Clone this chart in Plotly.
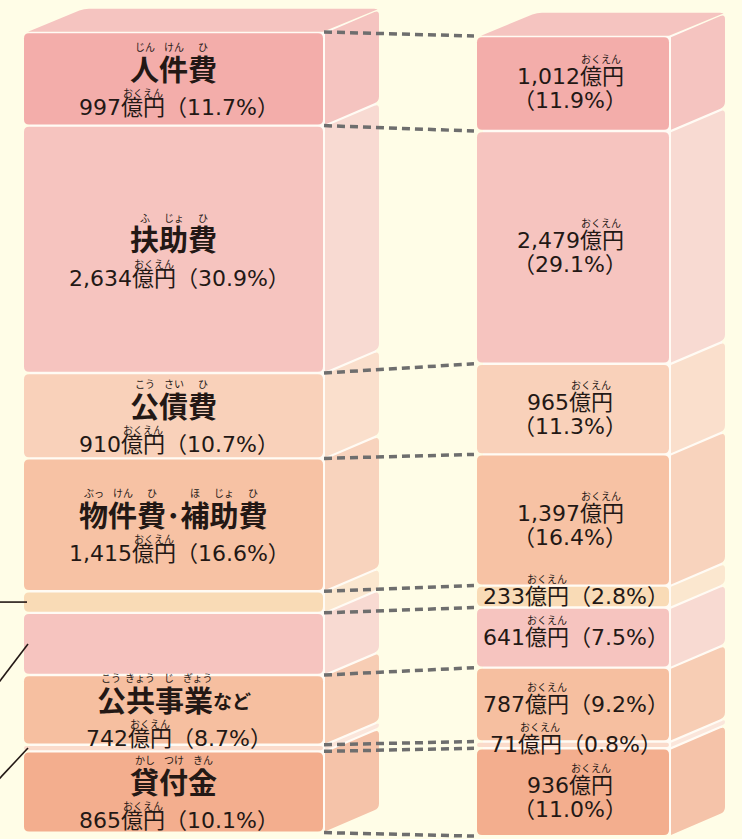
import math
import plotly.graph_objects as go

# ---------------- data ----------------
left_titles  = ["人件費", "扶助費", "公債費", "物件費･補助費", "", "", "公共事業", "", "貸付金"]
left_suffix  = ["", "", "", "", "", "", "など", "", ""]
left_ruby    = [["じん", "けん", "ひ"], ["ふ", "じょ", "ひ"], ["こう", "さい", "ひ"],
                ["ぶっ", "けん", "ひ", "", "ほ", "じょ", "ひ"], [], [],
                ["こう", "きょう", "じ", "ぎょう"], [], ["かし", "つけ", "きん"]]
left_values  = [997, 2634, 910, 1415, 230, 662, 742, 71, 865]
left_pcts    = [11.7, 30.9, 10.7, 16.6, None, None, 8.7, None, 10.1]
right_values = [1012, 2479, 965, 1397, 233, 641, 787, 71, 936]
right_pcts   = [11.9, 29.1, 11.3, 16.4, 2.8, 7.5, 9.2, 0.8, 11.0]
unit_label = "億円"
unit_ruby = "おくえん"

# ---------------- style ----------------
front_colors = ["#F3ADAA", "#F6C4BF", "#F9D1BA", "#F7C2A4", "#F9DBB6",
                "#F6C4BF", "#F6BFA0", "#FADBCB", "#F3AE8E"]
side_colors  = ["#F5C4C0", "#F8DAD2", "#FADFCC", "#F8D3BD", "#FBE7CF",
                "#F8DAD2", "#F7CDB4", "#FBE6DB", "#F5C3A9"]
right_two_line = [True, True, True, True, False, False, False, False, True]
BG = "#FFFDE7"
GAPC = "#FFFBF4"
TXT = "#231815"
DASHC = "#6E6E6E"

W, H = 742, 839
K = 0.0939            # px per 億円
TOP_PX = 32
ROFF = 4 / K          # right column offset (data units)
LX0, LX1 = 24, 323
RX0, RX1 = 477, 669
DX, DY = 56, -23
R = 5
G = 1.2 / K           # half gap
TFS, SFS, VFS, RFS = 29, 19, 22, 10
CJK = "Noto Sans CJK JP"
NUMF = "DejaVu Sans, Noto Sans CJK JP"


def P(x, y):
    return f"{x:.2f},{y:.3f}"


def rrect(x0, x1, y0, y1, r=R):
    ry = min(r / K, (y1 - y0) / 2)
    rx = min(r, (x1 - x0) / 2, ry * K)
    return (f"M {P(x0+rx,y0)} L {P(x1-rx,y0)} Q {P(x1,y0)} {P(x1,y0+ry)} "
            f"L {P(x1,y1-ry)} Q {P(x1,y1)} {P(x1-rx,y1)} L {P(x0+rx,y1)} "
            f"Q {P(x0,y1)} {P(x0,y1-ry)} L {P(x0,y0+ry)} Q {P(x0,y0)} {P(x0+rx,y0)} Z")


def side(xf, xb, y0, y1, r=R):
    dyd = DY / K
    ry = min(r / K, (y1 - y0) / 2)
    f = (ry * K) / math.hypot(DX, DY)
    A = (xf, y0); D = (xf, y1)
    B = (xb, y0 + dyd); C = (xb, y1 + dyd)
    B1 = (xb - f * DX, y0 + dyd - f * dyd); B2 = (xb, y0 + dyd + ry)
    C1 = (xb, y1 + dyd - ry); C2 = (xb - f * DX, y1 + dyd - f * dyd)
    return (f"M {P(*A)} L {P(*B1)} Q {P(*B)} {P(*B2)} L {P(*C1)} "
            f"Q {P(*C)} {P(*C2)} L {P(*D)} Z")


def top_face(x0, x1, y0, r=R):
    dyd = DY / K
    f = r / math.hypot(DX, DY)
    FL = (x0 + 4, y0); FR = (x1, y0)
    BL = (x0 + 4 + DX, y0 + dyd); BR = (x1 + DX, y0 + dyd)
    BL1 = (BL[0] - f * DX, BL[1] - f * dyd); BL2 = (BL[0] + r, BL[1])
    BR1 = (BR[0] - r, BR[1]); BR2 = (BR[0] - f * DX * 0.5, BR[1] - f * dyd * 0.5)
    return (f"M {P(*FL)} L {P(*BL1)} Q {P(*BL)} {P(*BL2)} L {P(*BR1)} "
            f"Q {P(*BR)} {P(*BR2)} L {P(*FR)} Z")


def cum(vals, off=0.0):
    out = [off]
    for v in vals:
        out.append(out[-1] + v)
    return out


def num_w(s):
    w = 0.0
    for ch in s:
        if ch.isdigit():
            w += 0.636
        elif ch in ",.":
            w += 0.318
        elif ch == "%":
            w += 0.950
        else:
            w += 1.0
    return w


shapes = []
annots = []


def column(vals, x0, x1, off):
    c = cum(vals, off)
    ytop, ybot = c[0], c[-1]
    dyd = DY / K
    # white backing (gaps)
    shapes.append(dict(type="path", xref="x", yref="y", line=dict(width=0), fillcolor=GAPC,
                       path=f"M {P(x0+6,ytop)} L {P(x1+2,ytop)} L {P(x1+2,ybot-3/K)} L {P(x0+6,ybot-3/K)} Z"))
    shapes.append(dict(type="path", xref="x", yref="y", line=dict(width=0), fillcolor=GAPC,
                       path=(f"M {P(x1,ytop)} L {P(x1+DX-3,ytop+dyd+3/K)} "
                             f"L {P(x1+DX-3,ybot+dyd-3/K)} L {P(x1,ybot-3/K)} Z")))
    # top face
    shapes.append(dict(type="path", xref="x", yref="y", line=dict(width=0),
                       fillcolor=side_colors[0], path=top_face(x0, x1, ytop - 0.3 / K)))
    for i in range(len(vals)):
        a, b = c[i] + G, c[i + 1] - G
        shapes.append(dict(type="path", xref="x", yref="y", line=dict(width=0),
                           fillcolor=front_colors[i], path=rrect(x0, x1, a, b)))
        shapes.append(dict(type="path", xref="x", yref="y", line=dict(width=0),
                           fillcolor=side_colors[i], path=side(x1 + 2, x1 + DX, a, b)))
    return c


cl = column(left_values, LX0, LX1, 0.0)
cr = column(right_values, RX0, RX1, ROFF)

# dashed connectors between boundaries
for yl, yr in zip(cl, cr):
    shapes.append(dict(type="line", xref="x", yref="y", x0=LX1 + 1, x1=RX0 - 3, y0=yl, y1=yr,
                       line=dict(color=DASHC, width=3.5, dash="8px,5px")))

# leader lines to labels outside the frame (unlabeled left blocks)
leader_drop = {4: 0, 5: 37, 7: 30}
for i, drop in leader_drop.items():
    mid = (cl[i] + cl[i + 1]) / 2
    xe = LX0 + 3 if drop == 0 else LX0 + 4
    xs = -1 if drop == 0 else LX0 + 4 - 28 * 1.05
    shapes.append(dict(type="line", xref="x", yref="y", x0=xs, x1=xe,
                       y0=mid + drop * 1.05 / K, y1=mid,
                       line=dict(color=TXT, width=1.6)))


def txt(x, y, s, size, family=CJK, bold=False):
    annots.append(dict(x=x, y=y, xref="x", yref="y", text=s, showarrow=False,
                       xanchor="center", yanchor="middle",
                       font=dict(family=family, size=size, color=TXT,
                                 weight=700 if bold else 400)))


def value_line(cx, y, v, pct, fs=VFS):
    s_num = f"{v:,}"
    s_pct = f"（{pct:.1f}%）" if pct is not None else ""
    wtot = (num_w(s_num) + 2 + num_w(s_pct)) * fs
    shift = 0.25 * fs if s_pct else 0
    start = cx - wtot / 2 + shift
    txt(cx + shift, y, s_num + unit_label + s_pct, fs, NUMF)
    return start + num_w(s_num) * fs + fs   # x centre of 億円


# left labels
lcx = (LX0 + LX1) / 2
for i, t in enumerate(left_titles):
    if not t:
        continue
    mid = (cl[i] + cl[i + 1]) / 2
    cw = [0.5 * TFS if ch == "･" else TFS for ch in t]
    tw = sum(cw)
    sw = len(left_suffix[i]) * SFS
    start = lcx - (tw + sw) / 2
    ty = mid - 11 / K
    txt(start + tw / 2, ty, t, TFS, bold=True)
    if sw:
        txt(start + tw + sw / 2, ty + 2 / K, left_suffix[i], SFS, bold=True)
    acc = start
    for ch_w, rb in zip(cw, left_ruby[i]):
        if rb:
            txt(acc + ch_w / 2, mid - 32 / K, rb, RFS)
        acc += ch_w
    ux = value_line(lcx, mid + 29 / K, left_values[i], left_pcts[i])
    txt(ux, mid + 14 / K, unit_ruby, RFS)

# right labels
rcx = 570
for i, v in enumerate(right_values):
    mid = (cr[i] + cr[i + 1]) / 2
    if right_two_line[i]:
        s_num = f"{v:,}"
        w1 = (num_w(s_num) + 2) * VFS
        txt(rcx, mid - 7 / K, s_num + unit_label, VFS, NUMF)
        txt(rcx, mid + 17 / K, f"（{right_pcts[i]:.1f}%）", VFS, NUMF)
        ux = rcx - w1 / 2 + num_w(s_num) * VFS + VFS
        txt(ux, mid - 25 / K, unit_ruby, RFS)
    else:
        ux = value_line(rcx, mid, v, right_pcts[i])
        txt(ux, mid - 18 / K, unit_ruby, RFS)

fig = go.Figure()
fig.add_trace(go.Scatter(x=[LX0] * len(cl) + [RX0] * len(cr), y=cl + cr, mode="markers",
                         marker=dict(opacity=0), hoverinfo="skip", showlegend=False))
fig.update_layout(
    width=W, height=H, autosize=False,
    margin=dict(l=0, r=0, t=0, b=0),
    paper_bgcolor=BG, plot_bgcolor=BG,
    xaxis=dict(range=[0, W], visible=False, fixedrange=True),
    yaxis=dict(range=[(H - TOP_PX) / K, -TOP_PX / K], visible=False, fixedrange=True),
    shapes=shapes, annotations=annots, showlegend=False,
)
fig.write_html("out.html", config={"displayModeBar": False},
               post_script="document.body.style.margin='0';document.body.style.background='" + BG + "';")
